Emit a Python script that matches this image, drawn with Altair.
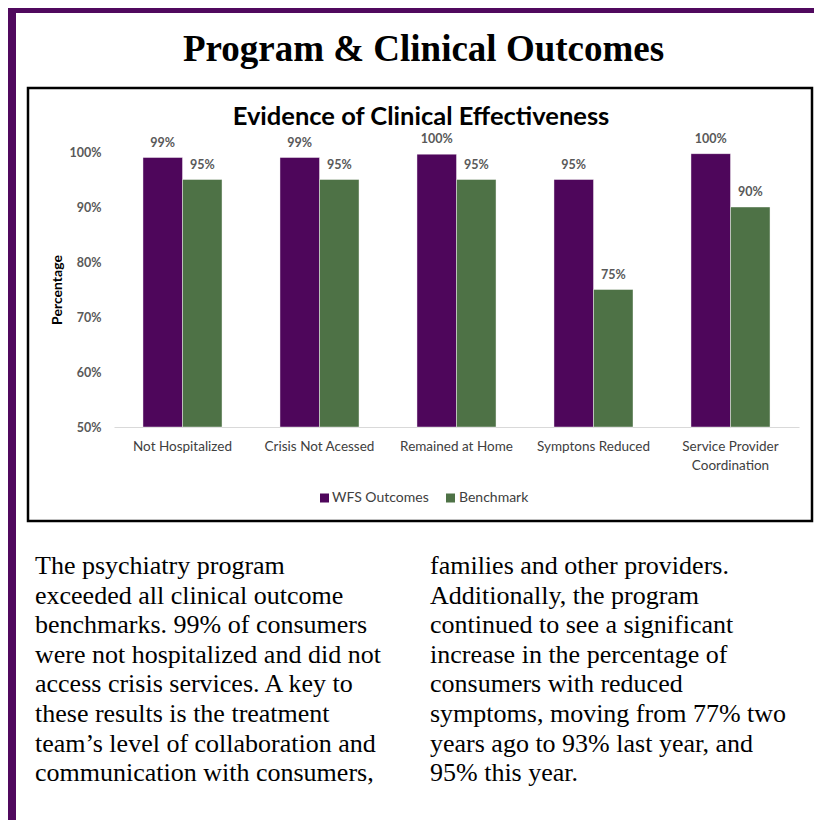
import altair as alt
import pandas as pd

# ---------------- data ----------------
categories = ["Not Hospitalized", "Crisis Not Acessed", "Remained at Home",
              "Symptons Reduced", "Service Provider|Coordination"]
series = ["WFS Outcomes", "Benchmark"]
wfs_values = [99, 99, 99.6, 95, 99.7]
benchmark_values = [95, 95, 95, 75, 90]
y_ticks = [50, 60, 70, 80, 90, 100]
colors = ["#4E065B", "#4E7246"]

page_title = "Program & Clinical Outcomes"
chart_title = "Evidence of Clinical Effectiveness"
y_title = "Percentage"
col1_lines = [
    "\u00a0The psychiatry program",
    "exceeded all clinical outcome",
    "benchmarks. 99% of consumers",
    "were not hospitalized and did not",
    "access crisis services. A key to",
    "these results is the treatment",
    "team\u2019s level of collaboration and",
    "communication with consumers,",
]
col2_lines = [
    "families and other providers.",
    "Additionally, the program",
    "continued to see a significant",
    "increase in the percentage of",
    "consumers with reduced",
    "symptoms, moving from 77% two",
    "years ago to 93% last year, and",
    "95% this year.",
]

rows = []
for c, a, b in zip(categories, wfs_values, benchmark_values):
    rows.append({"category": c, "series": series[0], "value": a})
    rows.append({"category": c, "series": series[1], "value": b})
df = pd.DataFrame(rows)

# ---------------- layout constants ----------------
PLOT_W, PLOT_H = 685, 275
PAD_L, PAD_T = 106, 144
TOTAL_W, TOTAL_H = 806, 812
PURPLE = "#50095E"
SANS = "Lato"
SERIF = "Liberation Serif"

color_scale = alt.Scale(domain=series, range=colors)

x_enc = alt.X(
    "category:N", sort=categories,
    scale=alt.Scale(paddingInner=0.423, paddingOuter=0.2115),
    axis=alt.Axis(title=None, labelAngle=0, ticks=False, domain=True,
                  domainColor="#D9D9D9", domainWidth=1, labelPadding=12,
                  labelFont=SANS, labelFontSize=13.5, labelColor="#404040",
                  labelLineHeight=19, labelBaseline="top",
                  labelExpr="split(datum.label, '|')"),
)
xo_enc = alt.XOffset("series:N", sort=series,
                     scale=alt.Scale(paddingInner=0, paddingOuter=0))
y_enc = alt.Y(
    "value:Q",
    scale=alt.Scale(domain=[50, 100], zero=False, nice=False),
    axis=alt.Axis(title=None, values=y_ticks, grid=False, domain=False,
                  ticks=False, labelPadding=13, labelFont=SANS,
                  labelFontSize=12.5, labelFontWeight="bold",
                  labelColor="#595959", labelExpr="datum.value + '%'"),
)

base = alt.Chart(df)
bars = base.mark_bar(stroke="white", strokeWidth=0.6, strokeOpacity=0.7).encode(
    x=x_enc, xOffset=xo_enc, y=y_enc, y2=alt.datum(50),
    color=alt.Color("series:N", sort=series, scale=color_scale, legend=None),
)
labels = base.transform_calculate(
    label="format(datum.value, '.0f') + '%'"
).mark_text(dy=-15, font=SANS, fontSize=12.5, fontWeight="bold",
            color="#595959", baseline="middle").encode(
    x=alt.X("category:N", sort=categories), xOffset=xo_enc,
    y=alt.Y("value:Q"), text="label:N",
)

one = pd.DataFrame({"k": [0]})

# page frame (purple)
left_bar = alt.Chart(one).mark_rect(color=PURPLE).encode(
    x=alt.value(-PAD_L), x2=alt.value(-PAD_L + 8),
    y=alt.value(-PAD_T), y2=alt.value(TOTAL_H - PAD_T))
top_bar = alt.Chart(one).mark_rect(color=PURPLE).encode(
    x=alt.value(-PAD_L), x2=alt.value(TOTAL_W - PAD_L),
    y=alt.value(-PAD_T), y2=alt.value(-PAD_T + 5))

# chart box
box = alt.Chart(one).mark_rect(fill=None, stroke="black", strokeWidth=2.5).encode(
    x=alt.value(-86), x2=alt.value(698), y=alt.value(-64), y2=alt.value(369))

title_page = alt.Chart(one).mark_text(
    font=SERIF, fontSize=37, fontWeight="bold", color="black",
    align="center", baseline="alphabetic").encode(
    x=alt.value(309.5), y=alt.value(-91), text=alt.value(page_title))

title_chart = alt.Chart(one).mark_text(
    font=SANS, fontSize=25.5, fontWeight="bold", color="black",
    align="center", baseline="alphabetic").encode(
    x=alt.value(307), y=alt.value(-27), text=alt.value(chart_title))

y_title_mark = alt.Chart(one).mark_text(
    font=SANS, fontSize=14, fontWeight="bold", color="black", angle=270,
    align="center", baseline="middle").encode(
    x=alt.value(-56), y=alt.value(138), text=alt.value(y_title))

# legend
leg_sq_x = [210.5, 336.5]
leg_tx_x = [218, 345]
legend_layers = []
for i, s in enumerate(series):
    d = pd.DataFrame({"series": [s]})
    legend_layers.append(alt.Chart(d).mark_square(size=81, opacity=1).encode(
        x=alt.value(leg_sq_x[i]), y=alt.value(346),
        color=alt.Color("series:N", sort=series, scale=color_scale, legend=None)))
    legend_layers.append(alt.Chart(d).mark_text(
        font=SANS, fontSize=14, color="#404040", align="left",
        baseline="middle").encode(
        x=alt.value(leg_tx_x[i]), y=alt.value(346), text="series:N"))

col1 = alt.Chart(one).mark_text(
    font=SERIF, fontSize=26, lineHeight=29.6, color="black", align="left",
    baseline="alphabetic").encode(
    x=alt.value(-79), y=alt.value(422), text=alt.value(col1_lines))
col2 = alt.Chart(one).mark_text(
    font=SERIF, fontSize=26, lineHeight=29.6, color="black", align="left",
    baseline="alphabetic").encode(
    x=alt.value(316), y=alt.value(422), text=alt.value(col2_lines))

chart = alt.layer(
    left_bar, top_bar, box, bars, labels, title_page, title_chart,
    y_title_mark, *legend_layers, col1, col2,
).properties(
    width=PLOT_W, height=PLOT_H,
    autosize=alt.AutoSizeParams(type="none"),
    padding={"left": PAD_L, "top": PAD_T,
             "right": TOTAL_W - PAD_L - PLOT_W,
             "bottom": TOTAL_H - PAD_T - PLOT_H},
    background="white",
).configure_view(stroke=None)

chart.save("out.html", embed_options={"renderer": "svg", "actions": False})
